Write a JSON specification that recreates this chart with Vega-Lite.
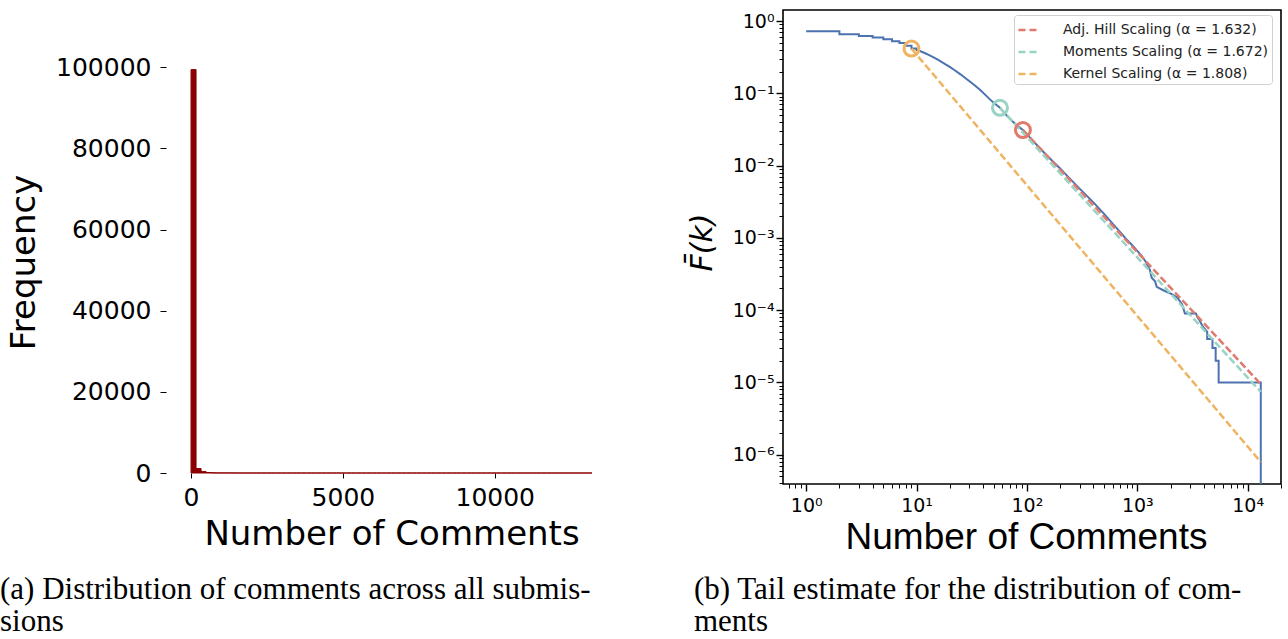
{
  "$schema": "https://vega.github.io/schema/vega-lite/v6.json",
  "padding": {"left": 0, "top": 9, "right": 0, "bottom": 0},
  "background": "white",
  "config": {
    "font": "DejaVu Sans",
    "view": {"stroke": null},
    "concat": {"spacing": 69},
    "axis": {"labelColor": "black", "titleColor": "black", "tickColor": "black", "domainColor": "black", "grid": false, "titleFontWeight": "normal", "labelFont": "DejaVu Sans", "titleFont": "DejaVu Sans"}
  },
  "resolve": {"scale": {"color": "independent"}, "legend": {"color": "independent"}},
  "datasets": {
    "hist": [
      {"lo": 0, "hi": 165, "n": 99430}, {"lo": 165, "hi": 330, "n": 1100}, {"lo": 330, "hi": 495, "n": 350}, {"lo": 495, "hi": 660, "n": 120},
      {"lo": 660, "hi": 825, "n": 50}, {"lo": 825, "hi": 990, "n": 23}, {"lo": 990, "hi": 1155, "n": 16}, {"lo": 1155, "hi": 1320, "n": 16},
      {"lo": 1320, "hi": 1485, "n": 12}, {"lo": 1485, "hi": 1650, "n": 3}, {"lo": 1650, "hi": 1815, "n": 1}, {"lo": 1815, "hi": 1980, "n": 1},
      {"lo": 1980, "hi": 2145, "n": 1}, {"lo": 2145, "hi": 2310, "n": 1}, {"lo": 2310, "hi": 2475, "n": 0}, {"lo": 2475, "hi": 2640, "n": 3},
      {"lo": 2640, "hi": 2805, "n": 3}, {"lo": 2805, "hi": 2970, "n": 0}, {"lo": 2970, "hi": 3135, "n": 0}, {"lo": 3135, "hi": 3300, "n": 0},
      {"lo": 3300, "hi": 3465, "n": 1}, {"lo": 3465, "hi": 3630, "n": 1}, {"lo": 3630, "hi": 3795, "n": 1}, {"lo": 3795, "hi": 3960, "n": 0},
      {"lo": 3960, "hi": 4125, "n": 0}, {"lo": 4125, "hi": 4290, "n": 0}, {"lo": 4290, "hi": 4455, "n": 1}, {"lo": 4455, "hi": 4620, "n": 1},
      {"lo": 4620, "hi": 4785, "n": 0}, {"lo": 4785, "hi": 4950, "n": 1}, {"lo": 4950, "hi": 5115, "n": 0}, {"lo": 5115, "hi": 5280, "n": 1},
      {"lo": 5280, "hi": 5445, "n": 0}, {"lo": 5445, "hi": 5610, "n": 0}, {"lo": 5610, "hi": 5775, "n": 0}, {"lo": 5775, "hi": 5940, "n": 0},
      {"lo": 5940, "hi": 6105, "n": 0}, {"lo": 6105, "hi": 6270, "n": 0}, {"lo": 6270, "hi": 6435, "n": 0}, {"lo": 6435, "hi": 6600, "n": 0},
      {"lo": 6600, "hi": 6765, "n": 0}, {"lo": 6765, "hi": 6930, "n": 0}, {"lo": 6930, "hi": 7095, "n": 0}, {"lo": 7095, "hi": 7260, "n": 0},
      {"lo": 7260, "hi": 7425, "n": 0}, {"lo": 7425, "hi": 7590, "n": 0}, {"lo": 7590, "hi": 7755, "n": 0}, {"lo": 7755, "hi": 7920, "n": 0},
      {"lo": 7920, "hi": 8085, "n": 0}, {"lo": 8085, "hi": 8250, "n": 0}, {"lo": 8250, "hi": 8415, "n": 0}, {"lo": 8415, "hi": 8580, "n": 0},
      {"lo": 8580, "hi": 8745, "n": 0}, {"lo": 8745, "hi": 8910, "n": 0}, {"lo": 8910, "hi": 9075, "n": 0}, {"lo": 9075, "hi": 9240, "n": 0},
      {"lo": 9240, "hi": 9405, "n": 0}, {"lo": 9405, "hi": 9570, "n": 0}, {"lo": 9570, "hi": 9735, "n": 0}, {"lo": 9735, "hi": 9900, "n": 0},
      {"lo": 9900, "hi": 10065, "n": 0}, {"lo": 10065, "hi": 10230, "n": 0}, {"lo": 10230, "hi": 10395, "n": 0}, {"lo": 10395, "hi": 10560, "n": 0},
      {"lo": 10560, "hi": 10725, "n": 0}, {"lo": 10725, "hi": 10890, "n": 0}, {"lo": 10890, "hi": 11055, "n": 0}, {"lo": 11055, "hi": 11220, "n": 0},
      {"lo": 11220, "hi": 11385, "n": 0}, {"lo": 11385, "hi": 11550, "n": 0}, {"lo": 11550, "hi": 11715, "n": 0}, {"lo": 11715, "hi": 11880, "n": 0},
      {"lo": 11880, "hi": 12045, "n": 0}, {"lo": 12045, "hi": 12210, "n": 0}, {"lo": 12210, "hi": 12375, "n": 0}, {"lo": 12375, "hi": 12540, "n": 0},
      {"lo": 12540, "hi": 12705, "n": 0}, {"lo": 12705, "hi": 12870, "n": 0}, {"lo": 12870, "hi": 13035, "n": 0}, {"lo": 13035, "hi": 13200, "n": 1}
    ],
    "ccdf": [
      {"k": 1, "F": 0.72}, {"k": 2, "F": 0.72}, {"k": 2, "F": 0.655}, {"k": 3, "F": 0.655}, {"k": 3, "F": 0.62},
      {"k": 4, "F": 0.62}, {"k": 4, "F": 0.589}, {"k": 5, "F": 0.589}, {"k": 5, "F": 0.558}, {"k": 6, "F": 0.558},
      {"k": 6, "F": 0.526}, {"k": 7, "F": 0.526}, {"k": 7, "F": 0.497}, {"k": 8, "F": 0.497}, {"k": 8, "F": 0.455},
      {"k": 9, "F": 0.455}, {"k": 9, "F": 0.418}, {"k": 10, "F": 0.418}, {"k": 10, "F": 0.397},
      {"k": 11, "F": 0.378}, {"k": 12, "F": 0.358}, {"k": 13, "F": 0.338}, {"k": 14, "F": 0.318}, {"k": 16, "F": 0.285},
      {"k": 18, "F": 0.256}, {"k": 20, "F": 0.232}, {"k": 22, "F": 0.21}, {"k": 25, "F": 0.183}, {"k": 28, "F": 0.16},
      {"k": 31, "F": 0.142}, {"k": 34, "F": 0.127}, {"k": 38, "F": 0.11}, {"k": 42, "F": 0.095}, {"k": 46, "F": 0.083},
      {"k": 50, "F": 0.074}, {"k": 57, "F": 0.063}, {"k": 65, "F": 0.05}, {"k": 75, "F": 0.04}, {"k": 85, "F": 0.034},
      {"k": 92, "F": 0.031}, {"k": 100, "F": 0.0272}, {"k": 120, "F": 0.02}, {"k": 150, "F": 0.014}, {"k": 200, "F": 0.0091},
      {"k": 250, "F": 0.0064}, {"k": 300, "F": 0.0048}, {"k": 400, "F": 0.0031}, {"k": 500, "F": 0.00215}, {"k": 600, "F": 0.00156},
      {"k": 700, "F": 0.0012}, {"k": 800, "F": 0.00095}, {"k": 900, "F": 0.00079}, {"k": 1000, "F": 0.00066}, {"k": 1100, "F": 0.00056},
      {"k": 1200, "F": 0.00046}, {"k": 1300, "F": 0.00036}, {"k": 1350, "F": 0.00028}, {"k": 1450, "F": 0.00025}, {"k": 1500, "F": 0.00021},
      {"k": 1700, "F": 0.00019}, {"k": 2000, "F": 0.00017}, {"k": 2300, "F": 0.00015}, {"k": 2550, "F": 0.00012}, {"k": 2700, "F": 0.00009},
      {"k": 3400, "F": 0.00009}, {"k": 3500, "F": 0.00008}, {"k": 3700, "F": 0.00007}, {"k": 3900, "F": 0.00006}, {"k": 4300, "F": 0.00005},
      {"k": 4300, "F": 0.00004}, {"k": 4800, "F": 0.00004}, {"k": 4800, "F": 0.00003}, {"k": 5130, "F": 0.00003}, {"k": 5130, "F": 0.00002},
      {"k": 5460, "F": 0.00002}, {"k": 5460, "F": 0.00001}, {"k": 13150, "F": 0.00001}, {"k": 13150, "F": 1e-9}
    ],
    "fits": [
      {"series": "Adj. Hill Scaling (α = 1.632)", "k": 92, "F": 0.031},
      {"series": "Adj. Hill Scaling (α = 1.632)", "k": 13150, "F": 0.0000095},
      {"series": "Moments Scaling (α = 1.672)", "k": 57, "F": 0.063},
      {"series": "Moments Scaling (α = 1.672)", "k": 13150, "F": 0.0000074},
      {"series": "Kernel Scaling (α = 1.808)", "k": 9, "F": 0.415},
      {"series": "Kernel Scaling (α = 1.808)", "k": 13150, "F": 0.00000079}
    ],
    "thresholds": [
      {"series": "Adj. Hill Scaling (α = 1.632)", "k": 92, "F": 0.031},
      {"series": "Moments Scaling (α = 1.672)", "k": 57, "F": 0.063},
      {"series": "Kernel Scaling (α = 1.808)", "k": 9, "F": 0.415}
    ]
  },
  "hconcat": [
    {
      "width": 451,
      "height": 463,
      "data": {"name": "hist"},
      "title": {
        "text": ["(a) Distribution of comments across all submis-", "sions"],
        "orient": "bottom", "anchor": "start", "frame": "group",
        "font": "Liberation Serif", "fontSize": 31, "fontWeight": "normal", "color": "black",
        "lineHeight": 32, "baseline": "top", "offset": 24, "dx": -166
      },
      "mark": {"type": "bar", "orient": "vertical", "color": "#8b0000", "stroke": "#8b0000", "strokeWidth": 1},
      "encoding": {
        "x": {
          "field": "lo", "type": "quantitative",
          "scale": {"domain": [-660, 13860], "nice": false, "zero": false},
          "axis": {
            "values": [0, 5000, 10000], "format": "d", "domain": false, "tickSize": 5, "tickWidth": 1,
            "labelFontSize": 25, "labelPadding": 7, "labelFlush": false, "labelOverlap": false,
            "title": "Number of Comments", "titleFontSize": 34, "titlePadding": 7
          }
        },
        "x2": {"field": "hi"},
        "y": {
          "field": "n", "type": "quantitative",
          "scale": {"domain": [0, 114120], "nice": false},
          "axis": {
            "values": [0, 20000, 40000, 60000, 80000, 100000], "format": "d", "domain": false, "tickSize": 6, "tickWidth": 1,
            "labelFontSize": 25, "labelPadding": 9, "labelOverlap": false,
            "title": "Frequency", "titleFontSize": 34, "titlePadding": 14, "titleY": 252
          }
        },
        "y2": {"datum": 0}
      }
    },
    {
      "width": 498,
      "height": 474,
      "view": {"stroke": "black", "strokeWidth": 1.6},
      "title": {
        "text": ["(b) Tail estimate for the distribution of com-", "ments"],
        "orient": "bottom", "anchor": "start", "frame": "group",
        "font": "Liberation Serif", "fontSize": 31, "fontWeight": "normal", "color": "black",
        "lineHeight": 32, "baseline": "top", "offset": 20, "dx": -89
      },
      "layer": [
        {
          "data": {"name": "ccdf"},
          "mark": {"type": "line", "color": "#4c72b0", "strokeWidth": 2, "clip": true},
          "encoding": {
            "order": {"value": null},
            "x": {
              "field": "k", "type": "quantitative",
              "scale": {"type": "log", "domain": [0.6166, 20050], "nice": false},
              "axis": {
                "values": [0.7, 0.8, 0.9, 1, 2, 3, 4, 5, 6, 7, 8, 9, 10, 20, 30, 40, 50, 60, 70, 80, 90, 100, 200, 300, 400, 500, 600, 700, 800, 900, 1000, 2000, 3000, 4000, 5000, 6000, 7000, 8000, 9000, 10000, 20000],
                "domain": false,
                "labelExpr": "abs(log(datum.value)/LN10 - round(log(datum.value)/LN10)) < 0.001 ? ['10⁰','10¹','10²','10³','10⁴'][round(log(datum.value)/LN10)] : ''",
                "tickSize": {"condition": {"test": "abs(log(datum.value)/LN10 - round(log(datum.value)/LN10)) < 0.001", "value": 7}, "value": 4},
                "tickWidth": {"condition": {"test": "abs(log(datum.value)/LN10 - round(log(datum.value)/LN10)) < 0.001", "value": 1.4}, "value": 1},
                "labelFontSize": 19, "labelPadding": 5, "labelOverlap": false, "labelFlush": false, "labelBound": false,
                "title": "Number of Comments", "titleFont": "Liberation Sans", "titleFontSize": 37, "titlePadding": 4, "titleX": 243
              }
            },
            "y": {
              "field": "F", "type": "quantitative",
              "scale": {"type": "log", "domain": [3.93e-7, 1.42], "nice": false},
              "axis": {
                "values": [4e-7, 5e-7, 6e-7, 7e-7, 8e-7, 9e-7, 1e-6, 2e-6, 3e-6, 4e-6, 5e-6, 6e-6, 7e-6, 8e-6, 9e-6, 1e-5, 2e-5, 3e-5, 4e-5, 5e-5, 6e-5, 7e-5, 8e-5, 9e-5, 0.0001, 0.0002, 0.0003, 0.0004, 0.0005, 0.0006, 0.0007, 0.0008, 0.0009, 0.001, 0.002, 0.003, 0.004, 0.005, 0.006, 0.007, 0.008, 0.009, 0.01, 0.02, 0.03, 0.04, 0.05, 0.06, 0.07, 0.08, 0.09, 0.1, 0.2, 0.3, 0.4, 0.5, 0.6, 0.7, 0.8, 0.9, 1],
                "domain": false,
                "labelExpr": "abs(log(datum.value)/LN10 - round(log(datum.value)/LN10)) < 0.001 ? ['10⁻⁶','10⁻⁵','10⁻⁴','10⁻³','10⁻²','10⁻¹','10⁰'][round(log(datum.value)/LN10) + 6] : ''",
                "tickSize": {"condition": {"test": "abs(log(datum.value)/LN10 - round(log(datum.value)/LN10)) < 0.001", "value": 7}, "value": 4},
                "tickWidth": {"condition": {"test": "abs(log(datum.value)/LN10 - round(log(datum.value)/LN10)) < 0.001", "value": 1.4}, "value": 1},
                "labelFontSize": 19, "labelPadding": 2, "labelOverlap": false, "labelBound": false,
                "title": "F̄(k)", "titleFontSize": 30, "titleFontStyle": "italic", "titlePadding": 15, "titleY": 232
              }
            }
          }
        },
        {
          "data": {"name": "fits"},
          "mark": {"type": "line", "strokeDash": [7.4, 3.2], "strokeWidth": 2.5, "clip": true},
          "encoding": {
            "x": {"field": "k", "type": "quantitative"},
            "y": {"field": "F", "type": "quantitative"},
            "detail": {"field": "series"},
            "color": {
              "field": "series", "type": "nominal",
              "scale": {
                "domain": ["Adj. Hill Scaling (α = 1.632)", "Moments Scaling (α = 1.672)", "Kernel Scaling (α = 1.808)"],
                "range": ["#e07a6d", "#98d3c4", "#efb361"]
              },
              "legend": {
                "orient": "none", "legendX": 231, "legendY": 5, "title": null,
                "symbolType": "stroke", "symbolDash": [7, 4], "symbolStrokeWidth": 2.4, "symbolSize": 441,
                "labelFontSize": 14, "labelFont": "DejaVu Sans", "labelColor": "#222222", "labelOffset": 22, "labelLimit": 400,
                "rowPadding": 3, "padding": 3, "strokeColor": "#d0d0d0", "fillColor": "white", "cornerRadius": 3
              }
            }
          }
        },
        {
          "data": {"name": "thresholds"},
          "mark": {"type": "point", "filled": false, "strokeWidth": 3, "size": 225, "opacity": 1},
          "encoding": {
            "x": {"field": "k", "type": "quantitative"},
            "y": {"field": "F", "type": "quantitative"},
            "color": {
              "field": "series", "type": "nominal",
              "scale": {
                "domain": ["Adj. Hill Scaling (α = 1.632)", "Moments Scaling (α = 1.672)", "Kernel Scaling (α = 1.808)"],
                "range": ["#e07a6d", "#98d3c4", "#efb361"]
              },
              "legend": null
            }
          }
        }
      ]
    }
  ]
}
